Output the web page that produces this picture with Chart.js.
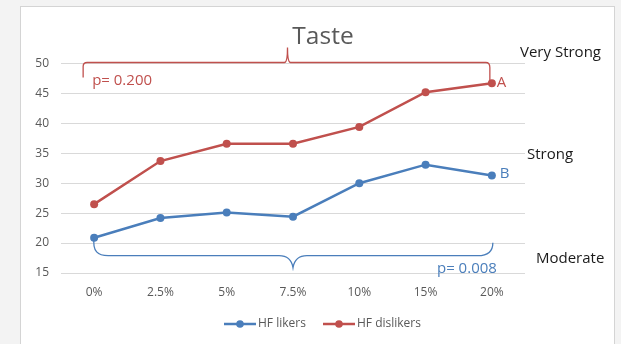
<!DOCTYPE html>
<html><head><meta charset="utf-8">
<script src="https://cdn.jsdelivr.net/npm/chart.js@4"></script>
<style>
html,body{margin:0;padding:0;background:#f3f3f3;width:621px;height:344px;overflow:hidden;}
#panel{position:absolute;left:20px;top:6px;width:595px;height:345px;background:#fff;border:1px solid #d4d4d4;box-sizing:border-box;}
#wrap{position:absolute;left:0;top:0;width:621px;height:344px;}
</style></head><body>
<div id="panel"></div>
<div id="wrap"><canvas id="c" width="621" height="344"></canvas></div>
<script>
const categories = ['0%','2.5%','5%','7.5%','10%','15%','20%'];
const likers = [20.9, 24.2, 25.1, 24.4, 30.0, 33.1, 31.3];
const dislikers = [26.5, 33.7, 36.6, 36.6, 39.4, 45.2, 46.7];
const seriesNames = ['HF likers','HF dislikers'];
const chartTitle = 'Taste';
const intensityLabels = ['Very Strong','Strong','Moderate'];
const intensityValues = [51.8, 34.8, 17.3];
const pLabels = ['p= 0.200','p= 0.008'];
const groupLetters = ['A','B'];

const RED = '#C0504D', BLUE = '#4A7EBB';
const FONT = '"Open Sans", Lato, sans-serif';

const annot = {
  id:'annot',
  afterDatasetsDraw(chart){
    const ctx = chart.ctx, x = chart.scales.x, y = chart.scales.y;
    ctx.save();
    // title
    ctx.fillStyle = '#595959';
    ctx.font = '24.5px ' + FONT;
    ctx.textAlign = 'center'; ctx.textBaseline = 'middle';
    ctx.fillText(chartTitle, 323, 37);
    // intensity labels
    ctx.fillStyle = '#1a1a1a';
    ctx.font = '15px ' + FONT;
    ctx.textAlign = 'left';
    const ix = [520, 527, 536];
    intensityLabels.forEach((t,i)=>ctx.fillText(t, ix[i], y.getPixelForValue(intensityValues[i])));
    // red bracket
    const x0 = x.getPixelForValue(0), x6 = x.getPixelForValue(6);
    const yTop = y.getPixelForValue(50) - 1;
    const yEndR = y.getPixelForValue(dislikers[6]);
    const midR = (x0 - 11 + x6) / 2;
    ctx.strokeStyle = RED; ctx.lineWidth = 1.3;
    ctx.beginPath();
    ctx.moveTo(x0 - 11, yTop + 15);
    ctx.lineTo(x0 - 11, yTop + 4);
    ctx.quadraticCurveTo(x0 - 11, yTop, x0 - 7, yTop);
    ctx.lineTo(midR - 3, yTop);
    ctx.quadraticCurveTo(midR, yTop, midR, yTop - 15);
    ctx.quadraticCurveTo(midR, yTop, midR + 3, yTop);
    ctx.lineTo(x6 - 6, yTop);
    ctx.quadraticCurveTo(x6 - 2, yTop, x6 - 2, yTop + 5);
    ctx.lineTo(x6 - 2, yEndR);
    ctx.stroke();
    ctx.fillStyle = RED;
    ctx.font = '15px ' + FONT;
    ctx.fillText(pLabels[0], x0 - 2, yTop + 18);
    ctx.fillText(groupLetters[0], x6 + 5, yEndR - 1);
    // blue bracket
    const yStartB = y.getPixelForValue(likers[0]);
    const yH = y.getPixelForValue(17.9);
    const yPeak = yH + 12;
    const midB = x.getPixelForValue(3);
    ctx.strokeStyle = BLUE; ctx.lineWidth = 1.3;
    ctx.beginPath();
    ctx.moveTo(x0, yStartB);
    ctx.bezierCurveTo(x0 - 2, yH - 4, x0 + 4, yH, x0 + 14, yH);
    ctx.lineTo(midB - 14, yH);
    ctx.quadraticCurveTo(midB - 2, yH, midB, yPeak);
    ctx.quadraticCurveTo(midB + 2, yH, midB + 14, yH);
    ctx.lineTo(x6 - 14, yH);
    ctx.bezierCurveTo(x6 - 4, yH, x6 + 1, yH - 5, x6 + 1, yH - 13);
    ctx.stroke();
    ctx.fillStyle = BLUE;
    ctx.textAlign = 'right';
    ctx.fillText(pLabels[1], x6 + 5, yH + 13);
    ctx.textAlign = 'left';
    ctx.fillText(groupLetters[1], x6 + 8, y.getPixelForValue(likers[6]) - 2);
    // legend
    const ly = 324;
    const items = [[seriesNames[0], BLUE, 224], [seriesNames[1], RED, 323]];
    ctx.font = '12px ' + FONT;
    items.forEach(([t,c,lx])=>{
      ctx.strokeStyle = c; ctx.lineWidth = 2.5;
      ctx.beginPath(); ctx.moveTo(lx, ly); ctx.lineTo(lx + 32, ly); ctx.stroke();
      ctx.fillStyle = c;
      ctx.beginPath(); ctx.arc(lx + 16, ly, 3.8, 0, Math.PI*2); ctx.fill();
      ctx.fillStyle = '#595959';
      ctx.fillText(t, lx + 34, ly);
    });
    ctx.restore();
  }
};

new Chart(document.getElementById('c'), {
  type:'line',
  data:{
    labels: categories,
    datasets:[
      {label: seriesNames[0], data: likers, borderColor: BLUE, backgroundColor: BLUE, borderWidth: 2.5, pointRadius: 4, pointBackgroundColor: BLUE, pointBorderWidth: 0, tension: 0},
      {label: seriesNames[1], data: dislikers, borderColor: RED, backgroundColor: RED, borderWidth: 2.5, pointRadius: 4, pointBackgroundColor: RED, pointBorderWidth: 0, tension: 0}
    ]
  },
  options:{
    responsive:false, animation:false, devicePixelRatio:1,
    layout:{padding:{left:0, right:96, top:63.5, bottom:31}},
    plugins:{legend:{display:false}, tooltip:{enabled:false}, title:{display:false}},
    scales:{
      x:{
        offset:true,
        grid:{display:false, drawTicks:false},
        border:{display:false},
        ticks:{color:'#595959', font:{size:12, family:FONT}, padding:12, maxRotation:0},
        afterFit(s){ s.height = 40; }
      },
      y:{
        min:15, max:50,
        grid:{color:'#d9d9d9', drawTicks:false, lineWidth:1},
        border:{display:false},
        ticks:{stepSize:5, color:'#595959', font:{size:12, family:FONT}, padding:12},
        afterFit(s){ s.width = 61; }
      }
    }
  },
  plugins:[annot]
});
</script>
</body></html>
